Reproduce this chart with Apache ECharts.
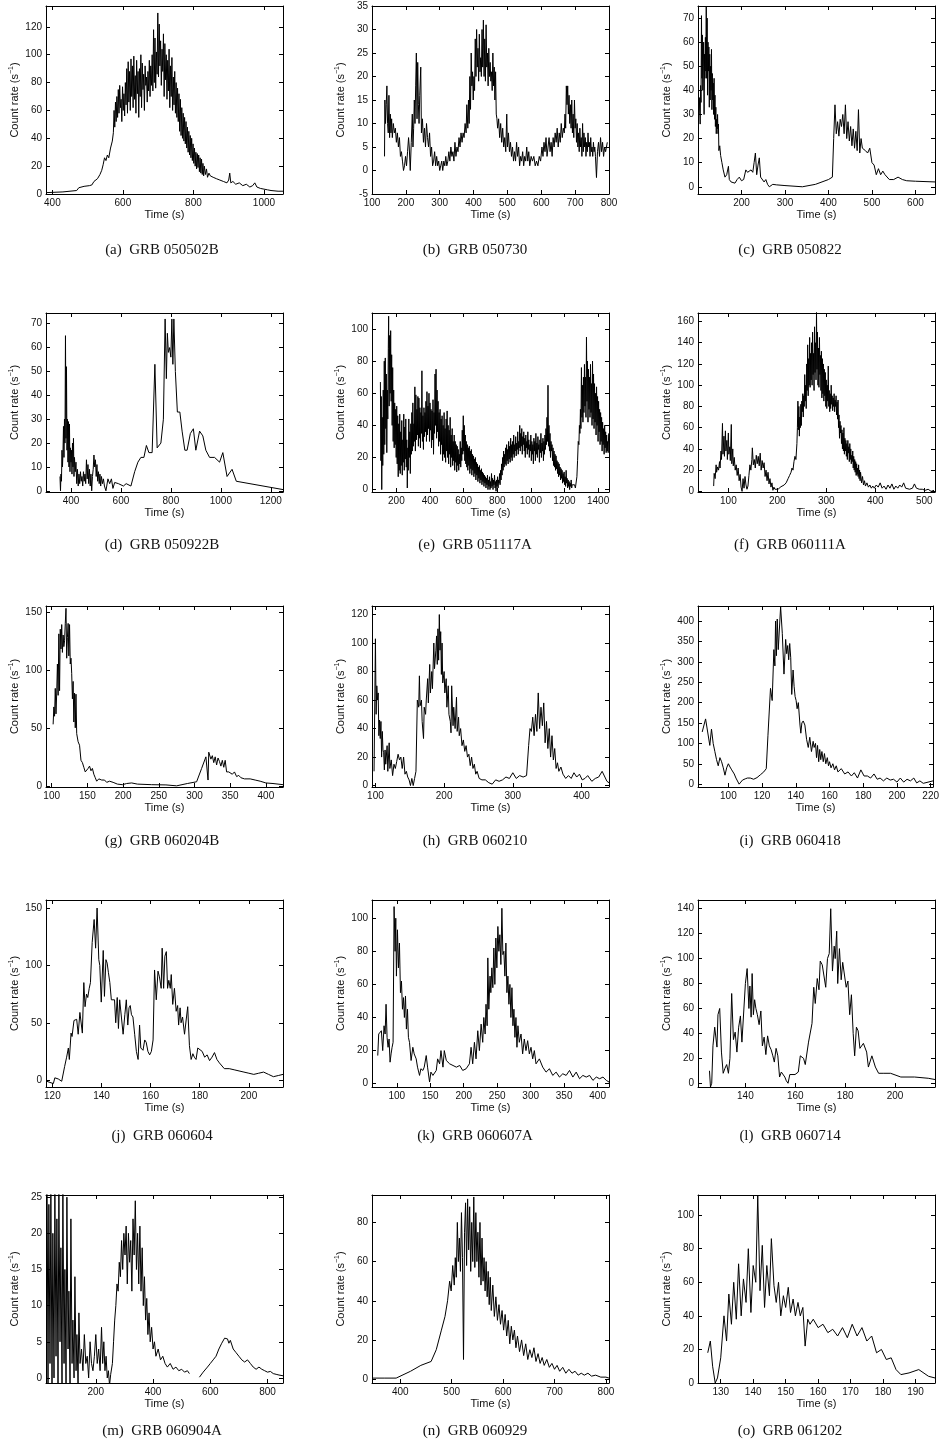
<!DOCTYPE html>
<html><head><meta charset="utf-8">
<script src="https://cdn.jsdelivr.net/npm/echarts@6/dist/echarts.min.js"></script>
<style>html,body{margin:0;padding:0;background:#fff}#c{width:942px;height:1452px}</style>
</head><body><div id="c"></div>
<script>
// ---------- DATA: [time (s), count rate (s^-1)] ----------
const grb050502B = [[384,1],[430,1.5],[469,2.5],[475,4.5],[490,5.5],[505,6],[512,6.5],[518,9],[528,11],[535,14],[540,17],[544,21],[548,26],[552,24],[556,28],[560,26],[565,33],[570,38],[573,44],[575,60],[577,48],[579,66],[581,52],[583,70],[585,55],[587,75],[589,58],[591,78],[593,62],[595,68],[597,52],[599,77],[601,60],[603,72],[605,56],[607,80],[609,64],[611,90],[613,58],[615,95],[617,66],[619,88],[621,60],[623,97],[625,70],[627,92],[629,62],[631,99],[633,68],[635,85],[637,58],[639,96],[641,72],[643,88],[645,55],[647,90],[649,70],[651,100],[653,62],[655,94],[657,75],[659,86],[661,60],[663,92],[665,78],[667,84],[669,66],[671,88],[673,74],[675,96],[677,70],[679,92],[681,78],[683,100],[685,74],[687,118],[689,80],[691,112],[693,76],[695,102],[697,86],[699,130],[701,84],[703,122],[705,92],[707,110],[709,78],[711,104],[713,88],[715,115],[717,70],[719,108],[721,82],[723,100],[725,68],[727,96],[729,74],[731,104],[733,62],[735,92],[737,70],[739,98],[741,60],[743,84],[745,64],[747,88],[749,58],[751,80],[753,55],[755,76],[757,52],[759,72],[761,45],[763,68],[765,42],[767,62],[769,40],[771,58],[773,38],[775,55],[777,36],[779,52],[781,33],[783,48],[785,30],[787,45],[789,28],[791,42],[793,26],[795,40],[797,24],[799,36],[801,22],[803,33],[805,20],[807,30],[809,18],[811,29],[813,19],[815,28],[817,16],[819,26],[821,15],[823,25],[825,14],[827,22],[829,13],[831,20],[834,14],[837,18],[840,12],[844,15],[848,13],[852,14],[856,12],[860,13],[865,11],[870,12],[875,10],[880,11],[885,9],[890,10],[895,8],[900,10],[903,15],[906,8],[912,9],[920,7],[930,8],[940,6],[950,7],[960,5],[968,6],[974,8],[980,5],[990,4],[1000,3.5],[1010,3],[1020,2.5],[1025,1.5],[1040,2],[1054,2]];

const grb050730 = [[137,3],[138,15],[140,10],[142,14],[144,18],[146,10],[148,8],[150,16],[152,7],[154,12],[156,8],[158,11],[160,7],[163,10],[166,8],[169,9],[172,6],[175,8],[178,5],[181,7],[184,3],[187,4],[190,2],[193,0],[196,1],[199,3],[202,1],[205,4],[208,7],[210,5],[213,0],[216,6],[219,12],[221,5],[223,9],[225,15],[227,10],[229,18],[231,25],[233,11],[235,23],[237,14],[239,10],[241,16],[244,22],[246,8],[249,11],[252,6],[255,9],[258,5],[261,10],[264,7],[267,5],[270,8],[273,3],[276,5],[279,1],[282,2],[285,4],[288,1],[291,3],[294,1],[297,2],[300,0],[303,1],[306,2],[309,0],[312,2],[315,1],[318,3],[321,1],[324,2],[327,4],[330,2],[333,5],[336,3],[339,4],[342,2],[345,6],[348,3],[351,5],[354,4],[357,7],[360,5],[363,8],[366,6],[369,8],[372,7],[375,10],[378,8],[380,14],[383,9],[385,15],[387,10],[389,20],[391,13],[393,25],[395,18],[397,21],[399,15],[401,20],[403,17],[405,28],[407,20],[409,30],[411,22],[413,26],[415,19],[417,29],[419,21],[421,24],[423,20],[425,30],[427,22],[429,32],[431,20],[433,28],[435,19],[437,31],[439,22],[441,25],[443,18],[445,26],[447,20],[449,23],[451,19],[453,21],[455,17],[457,25],[459,18],[461,22],[463,15],[465,21],[467,12],[469,11],[471,9],[474,11],[477,7],[480,10],[483,6],[486,9],[489,5],[492,7],[495,4],[498,12],[500,5],[503,8],[506,4],[509,6],[512,3],[515,5],[518,2],[521,4],[524,2],[527,6],[530,3],[533,5],[536,1],[539,3],[542,2],[545,4],[548,1],[551,3],[554,2],[557,5],[560,2],[563,4],[566,1],[570,3],[574,2],[578,3],[582,1],[586,2],[590,1],[594,3],[598,2],[602,5],[605,3],[608,6],[611,4],[614,7],[617,3],[620,5],[623,7],[626,4],[629,6],[632,3],[635,7],[638,5],[641,8],[644,6],[647,9],[650,5],[653,8],[656,6],[659,10],[662,7],[665,9],[668,8],[670,12],[672,9],[674,18],[676,14],[678,18],[680,12],[682,16],[684,10],[686,14],[688,9],[690,15],[692,8],[694,12],[696,7],[698,15],[700,9],[702,11],[704,6],[706,10],[708,5],[710,8],[712,4],[714,9],[716,5],[718,7],[720,3],[722,10],[724,4],[726,8],[728,5],[730,7],[732,3],[734,6],[736,4],[738,8],[740,5],[742,6],[744,3],[746,7],[748,4],[750,5],[752,3],[754,6],[756,4],[758,5],[760,3],[763,-1.5],[766,4],[769,6],[772,3],[775,7],[778,4],[781,6],[784,3],[787,5],[790,4],[795,6]];

const grb050822 = [[102,30],[103,37],[105,26],[106,42],[107,35],[108,71],[109,45],[110,63],[111,40],[112,50],[113,60],[114,30],[115,55],[116,45],[117,62],[118,48],[119,75],[120,45],[121,70],[122,38],[123,60],[124,48],[125,58],[126,33],[127,55],[128,36],[129,50],[130,40],[131,57],[132,32],[133,47],[134,36],[135,43],[136,30],[137,45],[138,28],[139,38],[140,25],[141,33],[142,22],[143,28],[144,24],[145,30],[146,22],[147,26],[148,15],[150,17],[152,13],[155,10],[158,7],[162,4],[166,5],[170,8.5],[172,3],[176,2],[180,2.5],[185,1.5],[190,3],[195,4],[200,2.5],[205,3],[210,7],[214,6],[218,5.5],[222,7],[226,6],[229,10],[232,14],[235,5],[238,9],[241,12],[244,4],[248,3.5],[252,2],[256,3],[260,1],[264,0],[268,-0.5],[272,1],[280,0.8],[300,0.5],[340,0],[370,1],[400,3],[409,4],[412,20],[415,34],[418,22],[421,27],[424,21],[427,28],[430,25],[433,30],[436,22],[439,34],[442,20],[445,27],[448,19],[451,25],[454,17],[457,24],[460,16],[463,23],[466,15],[469,32],[472,14],[475,20],[478,16],[481,16],[485,15],[490,14],[495,16],[500,10],[505,9],[510,5],[515,7.5],[520,5],[525,6.5],[530,5],[540,3],[550,3],[560,4],[570,3],[580,2.5],[600,2.3],[645,2]];

const grb050922B = [[356,6],[358,0],[360,7],[362,4],[364,17],[366,10],[368,16],[370,27],[372,14],[374,30],[376,20],[378,65],[380,22],[382,52],[384,17],[386,30],[388,12],[390,29],[392,10],[394,28],[396,8],[398,18],[400,12],[402,17],[404,7],[406,20],[408,10],[410,22],[412,6],[414,14],[417,8],[420,12],[423,3],[426,9],[429,2],[432,7],[435,3],[438,8],[441,4],[444,6],[447,2],[450,8],[453,4],[456,7],[459,3],[462,13],[465,5],[468,11],[471,3],[474,9],[477,2],[480,7],[483,0],[486,6],[489,9],[492,15],[495,10],[498,13],[501,6],[504,11],[507,4],[510,8],[513,3],[516,7],[519,2],[522,6],[526,3],[530,5],[534,2],[540,0],[548,5],[555,3],[562,5],[568,1],[575,3.5],[590,3],[610,2],[621,3],[640,2],[655,8],[668,12],[680,14],[692,14],[702,19],[712,16],[725,16],[736,53],[745,18],[760,20],[770,30],[777,72],[782,47],[786,66],[790,58],[795,60],[800,56],[804,72],[808,53],[812,72],[818,50],[826,33],[836,33],[845,25],[856,17],[865,17],[878,24],[890,26],[900,17],[915,25],[928,23],[940,17],[955,14],[975,14],[995,12],[1008,16],[1025,6],[1045,9],[1062,4],[1250,0.5]];

const grb051117A = [[105,67],[108,18],[110,58],[113,0],[116,45],[119,15],[122,62],[125,22],[128,80],[131,28],[134,82],[137,38],[140,72],[143,23],[146,62],[149,44],[152,88],[154,108],[157,52],[160,96],[163,60],[166,99],[169,55],[172,84],[175,40],[178,76],[181,30],[184,62],[187,26],[190,54],[193,28],[196,50],[199,20],[202,52],[205,16],[208,46],[211,8],[214,41],[217,12],[220,47],[223,10],[226,36],[229,15],[232,43],[235,9],[238,31],[241,17],[244,47],[247,12],[250,39],[253,19],[256,44],[259,14],[262,31],[265,1],[268,26],[271,12],[274,44],[277,20],[280,36],[283,10],[286,41],[289,22],[292,48],[295,24],[298,54],[301,27],[304,41],[307,30],[310,64],[313,24],[316,59],[319,31],[322,50],[325,34],[328,58],[331,27],[334,57],[337,32],[340,51],[343,26],[346,48],[349,35],[352,74],[355,30],[358,46],[361,25],[364,51],[367,33],[370,48],[373,36],[376,55],[379,30],[382,61],[385,34],[388,52],[391,38],[394,60],[397,30],[400,54],[403,37],[406,50],[409,26],[412,49],[415,31],[418,56],[421,22],[424,48],[427,35],[430,72],[433,40],[436,75],[439,32],[442,62],[445,36],[448,55],[451,27],[454,48],[457,30],[460,50],[463,22],[466,44],[469,28],[472,46],[475,18],[478,40],[481,22],[484,48],[487,20],[490,38],[493,17],[496,44],[499,24],[502,49],[505,20],[508,40],[511,16],[514,37],[517,22],[520,45],[523,14],[526,34],[529,20],[532,38],[535,15],[538,30],[541,18],[544,34],[547,12],[550,30],[553,17],[556,28],[559,11],[562,27],[565,15],[568,25],[571,12],[574,22],[577,16],[580,30],[583,14],[586,26],[589,18],[592,37],[595,22],[598,46],[601,24],[604,40],[607,18],[610,34],[613,16],[616,30],[619,14],[622,28],[625,12],[628,26],[631,15],[634,27],[637,10],[640,24],[643,13],[646,25],[649,9],[652,22],[655,12],[658,21],[661,8],[664,19],[667,10],[670,20],[673,6],[676,17],[679,9],[682,16],[685,5],[688,14],[691,7],[694,15],[697,4],[700,12],[703,6],[706,13],[709,3],[712,11],[715,5],[718,10],[721,2],[724,9],[727,4],[730,8],[733,1],[736,7],[739,3],[742,9],[745,0],[748,6],[751,2],[754,8],[757,0],[760,5],[763,1],[766,10],[769,2],[772,7],[775,0],[778,6],[781,3],[784,9],[787,1],[790,5],[793,-1],[796,6],[799,2],[802,8],[805,1],[808,6],[811,4],[814,10],[817,3],[820,12],[823,6],[826,16],[829,9],[832,20],[835,12],[838,24],[841,14],[844,22],[847,16],[850,26],[853,15],[856,28],[859,18],[862,25],[865,16],[868,30],[871,19],[874,27],[877,17],[880,32],[883,20],[886,28],[889,18],[892,30],[895,22],[898,34],[901,20],[904,28],[907,24],[910,33],[913,21],[916,29],[919,25],[922,36],[925,22],[928,30],[931,26],[934,40],[937,24],[940,35],[943,27],[946,38],[949,22],[952,33],[955,28],[958,36],[961,24],[964,32],[967,20],[970,34],[973,26],[976,30],[979,22],[982,36],[985,25],[988,31],[991,20],[994,28],[997,24],[1000,34],[1003,18],[1006,30],[1009,22],[1012,28],[1015,16],[1018,32],[1021,24],[1024,30],[1027,18],[1030,35],[1033,22],[1036,29],[1039,20],[1042,33],[1045,25],[1048,28],[1051,17],[1054,31],[1057,23],[1060,35],[1063,20],[1066,29],[1069,24],[1072,32],[1075,18],[1078,30],[1081,22],[1084,34],[1087,25],[1090,38],[1093,28],[1096,45],[1099,30],[1102,65],[1105,27],[1108,40],[1111,24],[1114,35],[1117,20],[1120,30],[1123,24],[1126,28],[1129,18],[1132,26],[1135,15],[1138,24],[1141,14],[1144,22],[1147,12],[1150,21],[1153,13],[1156,18],[1159,10],[1162,17],[1165,8],[1168,16],[1171,9],[1174,14],[1177,6],[1180,13],[1183,7],[1186,12],[1189,4],[1192,10],[1195,5],[1198,11],[1201,3],[1204,8],[1207,2],[1210,12],[1213,4],[1216,7],[1219,1],[1222,6],[1225,2],[1228,5],[1231,0],[1234,4],[1237,2],[1240,6],[1243,1],[1246,3],[1249,2],[1255,2],[1260,3],[1265,1],[1270,2],[1274,8],[1278,18],[1282,30],[1286,28],[1289,40],[1292,35],[1295,50],[1298,38],[1301,76],[1304,45],[1307,65],[1310,42],[1313,70],[1316,48],[1319,78],[1322,52],[1325,70],[1328,45],[1331,95],[1334,55],[1337,80],[1340,42],[1343,75],[1346,50],[1349,70],[1352,45],[1355,78],[1358,48],[1361,66],[1364,40],[1367,80],[1370,44],[1373,72],[1376,38],[1379,66],[1382,42],[1385,60],[1388,34],[1391,64],[1394,40],[1397,58],[1400,30],[1403,55],[1406,36],[1409,50],[1412,28],[1415,48],[1418,30],[1421,45],[1424,24],[1427,42],[1430,28],[1433,38],[1436,22],[1439,40],[1442,26],[1445,36],[1448,23],[1451,34],[1454,24],[1457,30],[1460,23],[1463,35]];

const grb060111A = [[70,5],[71,17],[73,12],[75,25],[76,18],[78,23],[80,20],[82,28],[83,22],[85,38],[86,30],[88,64],[89,35],[91,52],[92,33],[94,57],[95,38],[97,48],[98,30],[100,55],[101,35],[103,42],[104,29],[106,63],[107,26],[109,40],[110,24],[112,32],[114,20],[116,25],[118,15],[120,22],[122,10],[124,16],[126,4],[128,0],[130,12],[132,3],[134,14],[136,6],[138,2],[140,5],[142,15],[144,25],[146,20],[148,30],[149,41],[151,25],[153,30],[155,22],[157,34],[159,26],[161,33],[163,24],[165,36],[167,20],[169,29],[171,22],[173,27],[175,14],[177,20],[179,10],[181,18],[183,7],[185,12],[187,4],[189,8],[191,1],[193,4],[195,2],[198,3],[202,2],[206,4],[210,5],[214,6],[218,8],[222,12],[225,15],[228,18],[230,22],[232,20],[234,28],[236,33],[238,30],[240,45],[241,60],[242,85],[243,58],[244,80],[245,52],[246,70],[247,60],[248,82],[249,62],[250,85],[251,75],[252,92],[253,70],[254,90],[255,80],[256,110],[257,85],[258,100],[259,78],[260,120],[261,95],[262,138],[263,90],[264,125],[265,100],[266,145],[267,98],[268,130],[269,105],[270,140],[271,100],[272,150],[273,110],[274,130],[275,95],[276,155],[277,112],[278,140],[279,105],[280,169],[281,115],[282,150],[283,100],[284,135],[285,98],[286,145],[287,110],[288,128],[289,95],[290,132],[291,88],[292,125],[293,92],[294,120],[295,85],[296,115],[297,90],[298,112],[299,80],[300,105],[301,78],[302,100],[303,85],[304,118],[305,80],[306,95],[307,75],[308,92],[309,78],[310,100],[311,82],[312,90],[313,76],[314,88],[315,80],[316,92],[317,75],[318,86],[319,80],[320,90],[321,72],[322,84],[323,68],[324,86],[325,60],[326,72],[327,50],[328,66],[329,55],[330,62],[331,45],[332,58],[333,40],[334,55],[335,38],[336,60],[337,35],[338,50],[339,38],[340,48],[341,33],[342,45],[343,30],[344,48],[345,36],[346,42],[347,28],[348,45],[349,30],[350,40],[351,26],[352,34],[353,28],[354,38],[355,22],[356,33],[357,20],[358,30],[359,18],[360,28],[361,15],[362,26],[363,16],[364,22],[365,14],[366,25],[367,12],[368,20],[369,10],[370,18],[372,8],[374,14],[376,6],[378,10],[380,5],[383,8],[386,4],[389,6],[392,3],[395,5],[398,3],[402,6],[406,4],[410,8],[414,3],[418,5],[422,2],[426,6],[430,3],[434,7],[438,2],[442,5],[446,3],[450,6],[454,4],[458,8],[462,3],[466,4],[470,2],[476,3],[480,7],[484,3],[490,2],[496,2],[502,1],[508,2],[514,0],[520,1]];

const grb060204B = [[102,53],[103,68],[104,60],[105,84],[106,62],[107,80],[108,105],[109,78],[110,131],[111,82],[112,135],[113,118],[114,139],[115,115],[116,130],[117,120],[118,125],[119,140],[120,153],[121,110],[122,128],[123,140],[124,112],[125,139],[126,105],[127,110],[128,97],[129,75],[130,90],[131,55],[132,80],[133,50],[134,79],[135,45],[137,38],[139,35],[141,22],[143,20],[145,16],[147,12],[149,11],[151,15],[153,17],[155,13],[157,15],[159,10],[161,7],[163,4],[166,6],[170,5],[174,5],[177,3],[181,4],[186,3],[192,1.5],[199,1],[205,2],[212,2.5],[220,1.5],[240,1],[260,0.8],[275,0],[290,2],[303,3.5],[310,15],[316,25],[318,26],[319,5],[320,29],[323,23],[325,26],[327,20],[329,25],[331,18],[333,24],[335,21],[337,17],[339,22],[341,16],[343,22],[345,12],[348,12],[350,13],[353,10],[356,12],[359,8],[362,9],[365,7],[370,6],[378,6],[385,5],[392,4],[400,2.5],[410,2],[424,1]];

const grb060210 = [[98,10],[100,103],[101,50],[102,70],[103,60],[104,65],[105,35],[106,46],[107,33],[108,45],[109,20],[110,38],[111,25],[112,23],[113,11],[114,25],[115,15],[117,28],[118,10],[120,30],[121,12],[123,18],[125,7],[127,15],[129,12],[131,17],[133,22],[135,18],[137,20],[139,12],[141,20],[143,8],[145,10],[147,6],[149,4],[151,0],[153,5],[155,0],[157,5],[159,10],[161,60],[163,55],[164,77],[165,56],[167,60],[168,45],[170,33],[171,55],[173,50],[174,60],[176,75],[177,58],[179,85],[180,65],[182,80],[183,68],[185,100],[186,82],[188,95],[189,105],[190,85],[191,110],[192,88],[193,120],[194,95],[195,108],[196,78],[197,100],[198,72],[200,80],[201,65],[203,75],[204,55],[206,70],[207,50],[209,45],[210,37],[211,70],[213,42],[214,55],[216,40],[218,62],[219,38],[221,48],[222,35],[224,40],[226,28],[228,32],[230,24],[232,28],[234,20],[236,22],[238,14],[240,20],[242,12],[244,15],[246,8],[248,10],[251,5],[255,4],[260,4],[265,2],[270,1],[275,4],[280,3],[285,4],[290,6],[295,5],[300,9],[305,5],[310,7],[315,6],[320,7],[323,28],[325,40],[327,38],[329,48],[331,35],[333,50],[335,38],[337,65],[339,40],[341,55],[343,42],[345,58],[347,30],[349,45],[351,26],[353,40],[355,20],[357,35],[359,18],[361,26],[363,12],[365,16],[367,10],[370,13],[373,8],[377,5],[381,7],[385,5],[389,9],[393,6],[397,8],[401,4],[405,5],[409,7],[415,3],[420,5],[425,6],[430,10],[434,6],[437,3],[440,2]];

const grb060418 = [[84.5,128],[85.5,130],[86.5,160],[87.5,162],[89,95],[90,135],[91,100],[92,80],[93,60],[94,45],[95,65],[96,55],[97,40],[98,22],[99,40],[100,50],[101,42],[102,35],[103.5,25],[104.5,15],[106.4,0],[107.4,5],[108.4,10],[110,13],[111.3,15],[113,15],[115,12],[117,16],[119,23],[121,30],[122.5,38],[123.5,120],[125,235],[126,205],[127,330],[127.6,290],[128,400],[128.5,315],[129,405],[129.6,330],[131,435],[132,370],[133,270],[134,355],[134.6,320],[135.2,340],[135.8,305],[136.4,345],[137,310],[137.6,220],[138.4,280],[139,240],[139.6,215],[140.2,205],[140.8,185],[141.5,200],[142.5,145],[143,125],[143.6,150],[144.4,155],[145.4,145],[146.4,110],[147.4,90],[148.3,115],[149.3,80],[150.3,105],[150.9,90],[151.7,100],[152.3,65],[152.9,95],[153.6,55],[154.2,85],[154.8,60],[155.5,80],[156.3,55],[157,75],[157.8,50],[158.7,65],[159.4,45],[160,55],[160.9,40],[162,50],[163,35],[164,45],[165,30],[167,38],[169,25],[171,30],[173,20],[174.7,28],[176.6,15],[178.6,35],[179.5,38],[180.5,20],[182.5,20],[184.4,15],[186.4,25],[188.3,12],[190,15],[192,8],[194,15],[196,10],[198,12],[200,5],[202,15],[204,5],[206,12],[208,8],[210,15],[211.7,3],[213.6,8],[215.6,2],[221.4,8]];

const grb060604 = [[117.7,-1],[118.4,0],[119,-2],[119.7,-1],[120.4,-3],[121,2],[122.4,1],[123.8,-1],[124.5,-2],[125,12],[125.8,20],[126.5,28],[126.9,18],[127.6,41],[128,38],[128.8,52],[129.3,51],[129.9,53],[130.5,40],[131.2,59],[131.6,58],[132.2,41],[132.8,85],[133.3,64],[133.9,75],[134.4,72],[135,80],[135.5,85],[136.2,120],[137,140],[137.6,115],[138.2,150],[138.9,105],[139.3,100],[139.9,68],[140.7,113],[141.2,73],[141.8,105],[142.3,102],[142.8,94],[143.4,85],[144,70],[144.7,70],[145.3,70],[145.8,50],[146.4,72],[146.9,45],[147.4,70],[148.1,55],[148.8,40],[149.5,57],[150.1,70],[150.7,48],[151.2,63],[151.7,65],[152.2,57],[152.8,55],[153.5,40],[154.2,25],[154.9,18],[155.5,48],[156,28],[156.9,26],[157.6,35],[158.2,33],[158.9,25],[159.6,22],[160.3,25],[161,35],[161.6,96],[162.3,70],[163,95],[163.6,90],[164.3,80],[164.7,115],[165.3,80],[165.8,108],[166.4,112],[166.9,80],[167.4,87],[168,80],[168.4,92],[169,66],[169.7,80],[170.4,60],[171,65],[171.4,48],[172,63],[172.4,50],[173,55],[173.8,40],[174.5,40],[175.1,64],[175.8,30],[176.5,18],[177.2,23],[177.8,20],[178.5,18],[179.2,28],[180,28],[181,25],[182,20],[183,22],[184,17],[185,20],[186,24],[187,18],[188,15],[190,10],[192,10],[194,9],[196,8],[198,7],[200,6],[202,5],[204,6],[206,7],[208,5],[210,3],[212,4],[213.9,5]];

const grb060607A = [[71.6,17],[73,30],[75,31],[77,32],[79,20],[81,35],[82.6,30],[84,48],[85.5,28],[87,22],[88.5,27],[90,13],[91.5,18],[93,22],[94.5,25],[96,107],[97.5,80],[98.5,100],[99.5,65],[101,93],[102.5,70],[104,85],[105.5,55],[107,62],[108.5,45],[110,52],[111.4,40],[113,53],[114.4,33],[116,45],[117.4,28],[119,25],[121.4,14],[124,22],[126,18],[129,15],[131,10],[134,5],[136,9],[139,8],[141,10],[144,17],[146,10],[149,1],[151,7],[154,5],[159,8],[161,15],[164,12],[166,20],[169,10],[171,20],[174,14],[179,12],[184,11],[189,10],[194,11],[198.5,8],[203.5,9],[208.5,12],[211,22],[213.4,12],[216,25],[218.4,15],[221,32],[223.4,20],[226,36],[228.4,25],[230,40],[232,30],[233.3,48],[235,35],[236,76],[237.5,45],[239.3,65],[240.5,55],[242,70],[243.5,58],[245,82],[246.5,60],[248,88],[249.5,70],[251,95],[252.5,80],[254,90],[255.5,72],[257,106],[258.5,78],[260,80],[261.5,65],[263,85],[264.5,55],[266,65],[267.5,48],[269,60],[270.5,40],[272,58],[273.5,35],[275,45],[276.5,28],[278,40],[279.5,22],[281,35],[283,25],[285.6,30],[288,18],[290.5,27],[293,20],[295.5,26],[298,18],[300.5,22],[303,15],[305.5,20],[308,12],[313,15],[318,10],[323,7],[328,9],[333,5],[338,7],[343,4],[348,6],[353,5],[358,8],[363,4],[368,7],[373,3],[378,5],[383,4],[388,5],[393,2],[398,4],[403,3],[408,4],[413,2],[417,1]];

const grb060714 = [[125.6,10],[126,-3],[126.5,0],[127,30],[127.7,45],[128.1,44],[128.6,29],[129,55],[129.7,60],[130.4,25],[131.1,8],[131.8,12],[132.5,15],[133.2,8],[133.8,20],[134.5,72],[135.2,35],[135.9,41],[136.6,25],[137.3,45],[138,54],[138.6,33],[139.3,34],[140,80],[140.7,92],[141.4,60],[141.8,78],[142.3,53],[142.7,88],[143.2,55],[143.7,67],[144.2,60],[144.8,55],[145.5,47],[146.2,58],[146.8,30],[147.5,37],[148.2,23],[148.9,38],[149.6,30],[150.3,27],[151,22],[151.6,17],[152.3,28],[153,22],[153.7,5],[154.4,9],[155,8],[155.8,5],[156.4,2],[157.1,0],[157.8,7],[158.5,7],[159.9,7],[161.2,9],[162,22],[162.6,22],[163.3,20],[164,15],[165.3,33],[166.7,48],[167.4,77],[168,64],[168.8,84],[169.5,75],[170,98],[170.8,95],[171.5,95],[172.2,77],[172.9,100],[173.6,104],[174.2,140],[174.9,90],[175.6,110],[176,100],[176.6,122],[177,80],[177.7,108],[178.4,83],[179,97],[179.7,97],[180.4,77],[181.1,82],[181.8,55],[182.5,71],[183.2,40],[183.8,22],[184.5,45],[185.2,42],[185.9,28],[187.3,32],[188.6,25],[189.3,13],[190.7,22],[192.1,13],[193.4,8],[195.5,8],[198.2,8],[202.3,5],[207.8,5],[213.3,4],[216,3]];

const grb060904A_1 = [[30,25.5],[33,-1],[36,24],[40,2],[43,26],[47,-1],[50,20],[54,0],[57,26],[61,3],[64,22],[68,-1],[71,26],[75,5],[78,18],[82,-1],[85,26],[89,2],[92,15],[96,-1],[99,25],[103,4],[106,12],[110,-1],[113,22],[117,2],[120,8],[124,0],[127,14],[131,1],[134,6],[138,-1],[141,9],[145,2],[150,4],[155,1],[160,6],[165,2],[170,3],[175,0],[180,5],[185,2],[190,1],[195,3],[200,6],[205,2],[210,4],[215,1],[220,7],[224,2],[228,5],[232,1],[236,3],[240,0],[244,1],[248,-1],[252,0.5],[258,2],[262,5],[266,8],[270,10],[274,13],[278,12],[282,16],[286,14],[290,19],[294,15],[298,20],[302,17],[306,21],[310,13],[314,20],[318,16],[322,19],[326,12],[330,22],[334,17],[338,24.5],[342,15],[346,20],[350,13],[354,21],[358,12],[362,18],[366,10],[370,14],[374,8],[378,11],[382,6],[386,9],[390,5],[395,7],[400,4],[405,5],[410,3],[418,4],[426,2.5],[434,3],[442,2],[450,1.5],[460,2],[470,1.2],[480,1.5],[490,1],[500,1.2],[510,0.8],[520,1],[527,0.6]];
const grb060904A_2 = [[562,0.1],[575,0.8],[590,1.5],[600,2],[610,2.5],[620,3],[630,4],[640,4.8],[650,5.5],[660,5.4],[665,4.8],[670,5.2],[680,4],[690,3.5],[700,3],[710,2.5],[720,2.2],[730,2.5],[740,2],[750,1.5],[760,1.2],[770,1.5],[780,1.2],[790,1],[800,0.8],[810,0.9],[820,0.6],[830,0.5],[840,0.4],[854,0.3]];

const grb060929 = [[345,0.5],[370,0.5],[392,0.5],[420,4],[440,7],[460,9],[470,15],[480,25],[487,32],[492,40],[496,50],[499,45],[502,58],[505,48],[507,62],[509,52],[511,80],[513,60],[515,72],[517,55],[519,85],[521,62],[523,10],[525,75],[527,90],[529,58],[531,92],[533,66],[535,88],[537,55],[539,80],[541,60],[543,93],[545,57],[547,85],[549,60],[551,75],[553,52],[555,80],[557,48],[559,72],[561,50],[563,62],[565,45],[567,60],[569,42],[571,55],[573,38],[575,52],[577,35],[580,48],[583,32],[586,42],[589,30],[592,38],[595,28],[598,35],[601,25],[604,33],[607,22],[610,30],[613,18],[616,27],[619,20],[622,25],[625,16],[628,22],[632,14],[636,20],[640,12],[644,18],[648,10],[652,15],[656,11],[660,16],[664,9],[668,13],[672,8],[676,11],[680,7],[685,10],[690,6],[695,8],[700,5],[705,7],[710,4],[716,6],[722,3],[728,5],[734,3],[740,4],[746,2],[752,3],[758,2],[765,3],[772,1.5],[780,2],[790,1],[800,1],[806,0.5]];

const grb061202 = [[126,18],[126.8,25],[127.5,10],[128.3,0],[129,3],[130,15],[131,40],[131.8,25],[132.5,53],[133.3,35],[134,60],[134.8,38],[135.5,71],[136.3,40],[137,62],[137.8,48],[138.5,80],[139.3,42],[140,70],[140.8,60],[141.4,112],[142.1,55],[142.8,82],[143.5,45],[144.2,70],[145,52],[145.6,86],[146.4,58],[147.1,48],[147.8,60],[148.5,40],[149.3,52],[150,45],[150.8,57],[151.5,42],[152.3,50],[153,40],[153.8,48],[154.5,40],[155.3,45],[156,22],[156.8,38],[157.5,35],[158.5,38],[160,33],[161.5,35],[163,30],[164.5,32],[166,28],[167.5,33],[169,27],[170.5,35],[172,28],[173.5,33],[175,25],[176.5,28],[178,18],[179.5,20],[181,14],[182.5,15],[184,8],[185.5,5],[188,6],[191,8],[194,4],[196,3]];

// ---------- captions, ranges, tick labels ----------
const captions = ['(a)  GRB 050502B','(b)  GRB 050730','(c)  GRB 050822','(d)  GRB 050922B','(e)  GRB 051117A','(f)  GRB 060111A','(g)  GRB 060204B','(h)  GRB 060210','(i)  GRB 060418','(j)  GRB 060604','(k)  GRB 060607A','(l)  GRB 060714','(m)  GRB 060904A','(n)  GRB 060929','(o)  GRB 061202'];
const seriesData = [[grb050502B],[grb050730],[grb050822],[grb050922B],[grb051117A],[grb060111A],[grb060204B],[grb060210],[grb060418],[grb060604],[grb060607A],[grb060714],[grb060904A_1, grb060904A_2],[grb060929],[grb061202]];
const xRanges = [[382,1054],[100,800],[100,645],[300,1249],[55,1465],[38,522],[92,424],[95,440],[82,221.4],[117.4,213.9],[63,417],[121,216],[26,854],[345,806],[123,196]];
const yRanges = [[0,135],[-5,35],[-3,75],[-0.5,74.5],[-1.5,110],[-0.6,168],[-1,155],[-1,126],[-7,437],[-6,157],[-2,111],[-3,147],[-0.7,25.3],[-2,94],[0,112]];
const xTicks = [[400,600,800,1000],[100,200,300,400,500,600,700,800],[200,300,400,500,600],[400,600,800,1000,1200],[200,400,600,800,1000,1200,1400],[100,200,300,400,500],[100,150,200,250,300,350,400],[100,200,300,400],[100,120,140,160,180,200,220],[120,140,160,180,200],[100,150,200,250,300,350,400],[140,160,180,200],[200,400,600,800],[400,500,600,700,800],[130,140,150,160,170,180,190]];
const yTicks = [[0,20,40,60,80,100,120],[-5,0,5,10,15,20,25,30,35],[0,10,20,30,40,50,60,70],[0,10,20,30,40,50,60,70],[0,20,40,60,80,100],[0,20,40,60,80,100,120,140,160],[0,50,100,150],[0,20,40,60,80,100,120],[0,50,100,150,200,250,300,350,400],[0,50,100,150],[0,20,40,60,80,100],[0,20,40,60,80,100,120,140],[0,5,10,15,20,25],[0,20,40,60,80],[0,20,40,60,80,100]];

// ---------- layout ----------
const colLeft = [46, 372, 698];
const boxW = 237;
const rowTop = [6, 313, 606, 900, 1195];
const rowH = [188, 179, 181, 187, 188];
const captionX = [157, 470, 785];
const captionY = [247, 542, 838, 1133, 1428];

const FONT = 'Liberation Sans, Arial, Helvetica, sans-serif';
const plain = v => String(v);
const grids = [], xAxes = [], yAxes = [], series = [], titles = [];
for (let i = 0; i < 15; i++) {
  const r = Math.floor(i / 3), c = i % 3;
  grids.push({left: colLeft[c], top: rowTop[r], width: boxW, height: rowH[r], containLabel: false, show: false});
  const line = {show: true, onZero: false, lineStyle: {color: '#000', width: 1}};
  const tickX = {show: true, inside: true, length: 4, lineStyle: {color: '#000', width: 1}, customValues: xTicks[i]};
  const tickY = {show: true, inside: true, length: 4, lineStyle: {color: '#000', width: 1}, customValues: yTicks[i]};
  xAxes.push({type: 'value', gridIndex: i, position: 'bottom', min: xRanges[i][0], max: xRanges[i][1],
    axisLine: line, axisTick: tickX, splitLine: {show: false},
    axisLabel: {show: true, customValues: xTicks[i], formatter: plain, margin: 4, color: '#111', fontSize: 10, fontFamily: FONT},
    name: 'Time (s)', nameLocation: 'middle', nameGap: 15, nameTextStyle: {color: '#111', fontSize: 11, fontFamily: FONT}});
  xAxes.push({type: 'value', gridIndex: i, position: 'top', min: xRanges[i][0], max: xRanges[i][1],
    axisLine: line, axisTick: tickX, splitLine: {show: false}, axisLabel: {show: false}});
  yAxes.push({type: 'value', gridIndex: i, position: 'left', min: yRanges[i][0], max: yRanges[i][1],
    axisLine: line, axisTick: tickY, splitLine: {show: false},
    axisLabel: {show: true, customValues: yTicks[i], formatter: plain, margin: 4, color: '#111', fontSize: 10, fontFamily: FONT},
    name: 'Count rate (s{sup|−1})', nameLocation: 'middle', nameGap: 25, nameRotate: 90,
    nameTextStyle: {color: '#111', fontSize: 11, fontFamily: FONT,
      rich: {sup: {fontSize: 7, fontFamily: FONT, color: '#111', padding: [0, 0, 6, 0]}}}});
  yAxes.push({type: 'value', gridIndex: i, position: 'right', min: yRanges[i][0], max: yRanges[i][1],
    axisLine: line, axisTick: tickY, splitLine: {show: false}, axisLabel: {show: false}});
  seriesData[i].forEach(d => series.push({type: 'line', xAxisIndex: 2 * i, yAxisIndex: 2 * i, data: d,
    showSymbol: false, symbol: 'none', clip: true, silent: true,
    lineStyle: {color: '#000', width: 1}}));
  titles.push({text: captions[i], left: captionX[c], top: captionY[r] - 9, textAlign: 'center',
    textStyle: {fontFamily: 'Liberation Serif, Times New Roman, serif', fontWeight: 'normal', fontSize: 15, color: '#111'}});
}
const chart = echarts.init(document.getElementById('c'), null, {renderer: 'canvas'});
chart.setOption({animation: false, backgroundColor: '#fff', title: titles, grid: grids, xAxis: xAxes, yAxis: yAxes, series: series});
</script></body></html>
